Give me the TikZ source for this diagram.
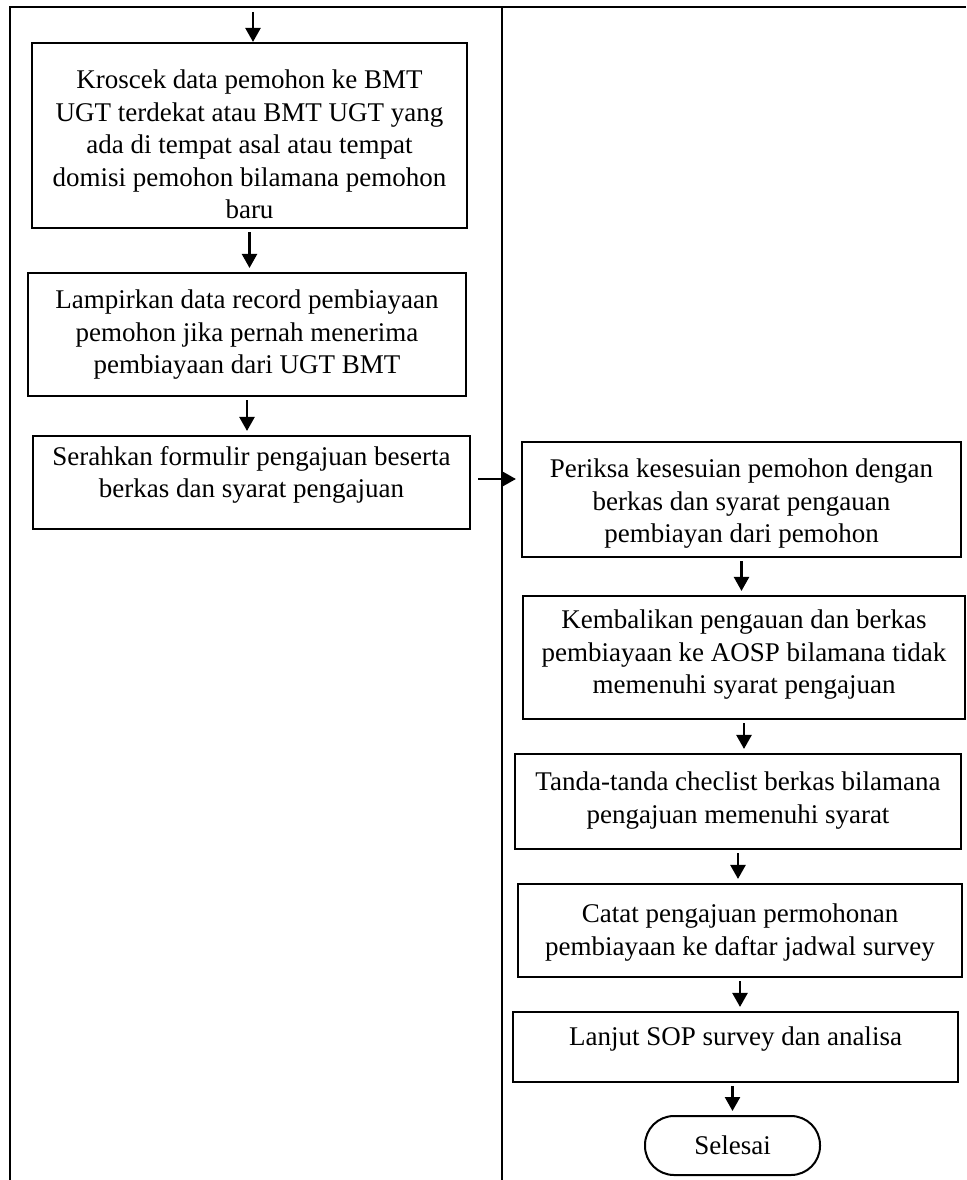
\documentclass[tikz,border=0pt]{standalone}
\usepackage{fontspec}
\setmainfont{Liberation Serif}
\usetikzlibrary{arrows.meta}
\begin{document}
\begin{tikzpicture}[x=1pt,y=-1pt,
  lane/.style={line width=2.6pt},
  box/.style={draw,line width=2.1pt,rectangle,inner sep=0pt},
  txt/.style={align=center,inner sep=0pt,anchor=north,font=\fontsize{27}{32.5}\selectfont},
  term/.style={draw,line width=2pt,rounded corners=29pt,inner sep=0pt,font=\fontsize{27}{32.5}\selectfont},
  arr/.style={line width=2.4pt,-{Triangle[width=15pt,length=14pt]},shorten <=3pt,shorten >=4pt}]
\useasboundingbox (0,0) rectangle (966,1180);
\fill[white] (0,0) rectangle (966,1180);
% swimlane lines
\draw[lane] (10,1180) -- (10,7) -- (966,7);
\draw[lane] (502,7) -- (502,1180);
% boxes
\node[box,minimum width=435pt,minimum height=185pt] (b1) at (249.5,135.5) {};
\node[box,minimum width=438pt,minimum height=123pt] (b2) at (247,334.5) {};
\node[box,minimum width=437pt,minimum height=93pt] (b3) at (251.5,482.5) {};
\node[box,minimum width=439pt,minimum height=115pt] (b4) at (741.5,499.5) {};
\node[box,minimum width=442pt,minimum height=123pt] (b5) at (744,657.5) {};
\node[box,minimum width=446pt,minimum height=95pt] (b6) at (738,801.5) {};
\node[box,minimum width=444pt,minimum height=93pt] (b7) at (740,930.5) {};
\node[box,minimum width=445pt,minimum height=70pt] (b8) at (735.5,1047) {};
\node[term,minimum width=175pt,minimum height=59pt] (end) at (732.5,1145.5) {Selesai};
% texts
\node[txt] (t1) at (249.5,70) {Kroscek data pemohon ke BMT\\UGT terdekat atau BMT UGT yang\\ada di tempat asal atau tempat\\domisi pemohon bilamana pemohon\\baru};
\node[txt] (t2) at (247,290) {Lampirkan data record pembiayaan\\pemohon jika pernah menerima\\pembiayaan dari UGT BMT};
\node[txt] (t3) at (251.5,446) {Serahkan formulir pengajuan beserta\\berkas dan syarat pengajuan};
\node[txt] (t4) at (741.5,459) {Periksa kesesuian pemohon dengan\\berkas dan syarat pengauan\\pembiayan dari pemohon};
\node[txt] (t5) at (744,610) {Kembalikan pengauan dan berkas\\pembiayaan ke AOSP bilamana tidak\\memenuhi syarat pengajuan};
\node[txt] (t6) at (738,772) {Tanda-tanda checlist berkas bilamana\\pengajuan memenuhi syarat};
\node[txt] (t7) at (740,904) {Catat pengajuan permohonan\\pembiayaan ke daftar jadwal survey};
\node[txt] (t8) at (735.5,1027) {Lanjut SOP survey dan analisa};
% connectors
\coordinate (start) at (253,12);
\draw[arr,shorten <=0pt,shorten >=0pt] (start) -- (start |- b1.north);
\draw[arr] (b1.south) -- (b1.south |- b2.north);
\draw[arr] (b2.south) -- (b2.south |- b3.north);
\draw[arr,shorten <=7pt,shorten >=5pt] ([yshift=3.5pt]b3.east) -- ([yshift=3.5pt]b3.east -| b4.west);
\draw[arr] (b4.south) -- (b4.south |- b5.north);
\draw[arr] (b5.south) -- (b5.south |- b6.north);
\draw[arr] (b6.south) -- (b6.south |- b7.north);
\draw[arr] (b7.south) -- (b7.south |- b8.north);
\draw[arr] (b8.south -| end.north) -- (end.north);
\end{tikzpicture}
\end{document}
